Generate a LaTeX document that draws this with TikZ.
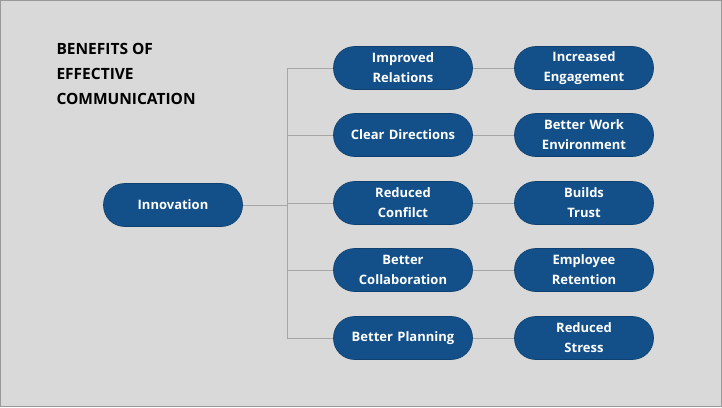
\documentclass[tikz,border=0pt]{standalone}
\usepackage{fontspec}
\setmainfont{Open Sans}
\definecolor{bg}{HTML}{D9D9D9}
\definecolor{nb}{HTML}{13508A}
\definecolor{ln}{HTML}{A6A6A6}
\begin{document}
\begin{tikzpicture}[x=1pt,y=-1pt,
  pill/.style={fill=nb,draw=nb!80!black,line width=0.6pt,rounded corners=21pt,minimum width=139pt,minimum height=43pt,text width=130pt,align=center,text=white,font=\bfseries\fontsize{13}{20}\selectfont,inner sep=0pt},
  conn/.style={draw=ln,line width=0.8pt}]
\fill[bg,draw=gray!80] (0.5,0.5) rectangle (721.5,406.5);
\useasboundingbox (0,0) rectangle (722,407);
\node[anchor=north west,align=left,font=\bfseries\fontsize{15.5}{25}\selectfont] (t) at (53,40) {BENEFITS OF\\EFFECTIVE\\COMMUNICATION};
\node[pill] (in) at (173,205) {Innovation};
\node[pill] (m1) at (403,68) {Improved\\Relations};
\node[pill] (m2) at (403,135) {Clear Directions};
\node[pill] (m3) at (403,203) {Reduced\\Confilct};
\node[pill] (m4) at (403,270) {Better\\Collaboration};
\node[pill] (m5) at (403,338) {Better Planning};
\node[pill] (r1) at (584,68) {Increased\\Engagement};
\node[pill] (r2) at (584,135) {Better Work\\Environment};
\node[pill] (r3) at (584,203) {Builds\\Trust};
\node[pill] (r4) at (584,270) {Employee\\Retention};
\node[pill] (r5) at (584,338) {Reduced\\Stress};
\coordinate (j) at (287,205);
\draw[conn] (in.east) -- (j);
\foreach \i in {1,...,5}{
  \draw[conn] (j |- m\i.west) -- (m\i.west);
  \draw[conn] (m\i.east) -- (r\i.west);
}
\draw[conn] (j |- m1.west) -- (j |- m5.west);
\end{tikzpicture}
\end{document}
